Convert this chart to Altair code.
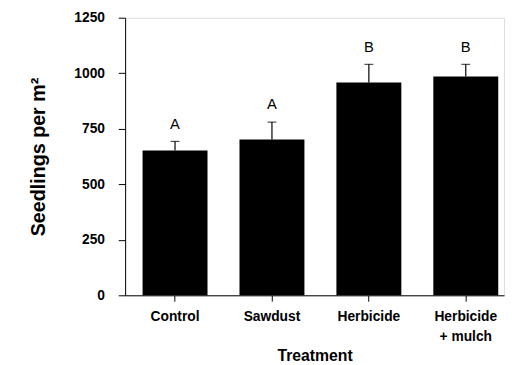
import altair as alt
import pandas as pd

treatments = ["Control", "Sawdust", "Herbicide", "Herbicide + mulch"]
means = [652, 702, 958, 985]
upper = [693, 780, 1040, 1040]
letters = ["A", "A", "B", "B"]
y_ticks = [0, 250, 500, 750, 1000, 1250]

df = pd.DataFrame({"Treatment": treatments, "mean": means, "upper": upper, "letter": letters})

FONT = "Liberation Sans"

x = alt.X(
    "Treatment:N",
    sort=treatments,
    scale=alt.Scale(paddingInner=0.33, paddingOuter=0.12, align=0.75),
    axis=alt.Axis(
        title="Treatment",
        labelAngle=0,
        labelFont=FONT,
        labelFontWeight="bold",
        labelFontSize=14,
        labelColor="black",
        labelPadding=9,
        labelLineHeight=20,
        labelExpr="datum.label == 'Herbicide + mulch' ? ['Herbicide', '+ mulch'] : datum.label",
        tickSize=6,
        tickColor="black",
        domainColor="black",
        titleFont=FONT,
        titleFontWeight="bold",
        titleFontSize=16,
        titleColor="black",
        titlePadding=4,
    ),
)

y_scale = alt.Scale(domain=[0, 1250], nice=False)
y_axis = alt.Axis(
    title="Seedlings per m²",
    values=y_ticks,
    format="d",
    grid=False,
    labelFont=FONT,
    labelFontWeight="bold",
    labelFontSize=14,
    labelColor="black",
    labelPadding=14,
    tickSize=7,
    tickColor="black",
    domainColor="black",
    titleFont=FONT,
    titleFontWeight="bold",
    titleFontSize=20,
    titleColor="black",
    titlePadding=26,
)

bars = alt.Chart(df).mark_bar(color="black").encode(
    x=x,
    y=alt.Y("mean:Q", scale=y_scale, axis=y_axis),
)

err = alt.Chart(df).mark_rule(color="black", strokeWidth=1.2).encode(
    x=alt.X("Treatment:N", sort=treatments),
    y="mean:Q",
    y2="upper:Q",
)

caps = alt.Chart(df).mark_tick(color="black", size=9, thickness=1.2).encode(
    x=alt.X("Treatment:N", sort=treatments),
    y="upper:Q",
)

text = alt.Chart(df).mark_text(
    font=FONT, fontSize=15, color="black", baseline="bottom", dy=-10
).encode(
    x=alt.X("Treatment:N", sort=treatments),
    y="upper:Q",
    text="letter:N",
)

chart = (
    alt.layer(bars, err, caps, text)
    .properties(
        width=385,
        height=282,
        autosize=alt.AutoSizeParams(type="none"),
        padding={"left": 119, "top": 7, "right": 4, "bottom": 72},
    )
    .configure_view(stroke=None)
    .configure(background="white")
)

chart.save("out.html", embed_options={"renderer": "svg", "actions": False})
